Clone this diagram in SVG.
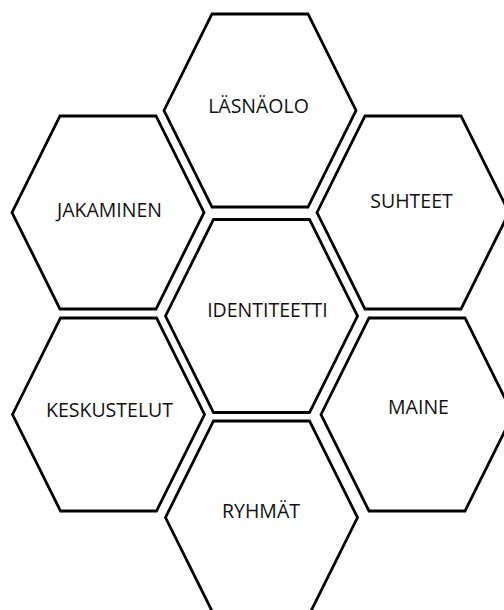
<svg xmlns="http://www.w3.org/2000/svg" xmlns:xlink="http://www.w3.org/1999/xlink" width="504" height="610" viewBox="0 0 504 610">
  <style>
    .hex { fill: #ffffff; stroke: #000000; stroke-width: 2.8; stroke-linejoin: miter; }
    .lbl { font-family: "Open Sans", "Liberation Sans", sans-serif; font-size: 19.5px; fill: #111111; text-anchor: middle; }
  </style>
  <defs>
    <polygon id="hexshape" points="-96,0 -48,-96.5 48,-96.5 96,0 48,96.5 -48,96.5"/>
  </defs>
  <rect x="0" y="0" width="504" height="610" fill="#ffffff"/>
  <g id="lasnaolo">
    <use xlink:href="#hexshape" class="hex" transform="translate(260,110.5)"/>
    <text class="lbl" x="258.5" y="113">LÄSNÄOLO</text>
  </g>
  <g id="jakaminen">
    <use xlink:href="#hexshape" class="hex" transform="translate(108,212.5)"/>
    <text class="lbl" x="109.5" y="217">JAKAMINEN</text>
  </g>
  <g id="suhteet">
    <use xlink:href="#hexshape" class="hex" transform="translate(413,212.5)"/>
    <text class="lbl" x="411.5" y="208">SUHTEET</text>
  </g>
  <g id="identiteetti">
    <use xlink:href="#hexshape" class="hex" transform="translate(261.5,316)"/>
    <text class="lbl" x="267.5" y="317">IDENTITEETTI</text>
  </g>
  <g id="keskustelut">
    <use xlink:href="#hexshape" class="hex" transform="translate(108.5,414.5)"/>
    <text class="lbl" x="109.5" y="417">KESKUSTELUT</text>
  </g>
  <g id="maine">
    <use xlink:href="#hexshape" class="hex" transform="translate(417,414.5)"/>
    <text class="lbl" x="418.5" y="414">MAINE</text>
  </g>
  <g id="ryhmat">
    <use xlink:href="#hexshape" class="hex" transform="translate(261.5,517.5)"/>
    <text class="lbl" x="261" y="518">RYHMÄT</text>
  </g>
  <g id="connectors"/>
</svg>
